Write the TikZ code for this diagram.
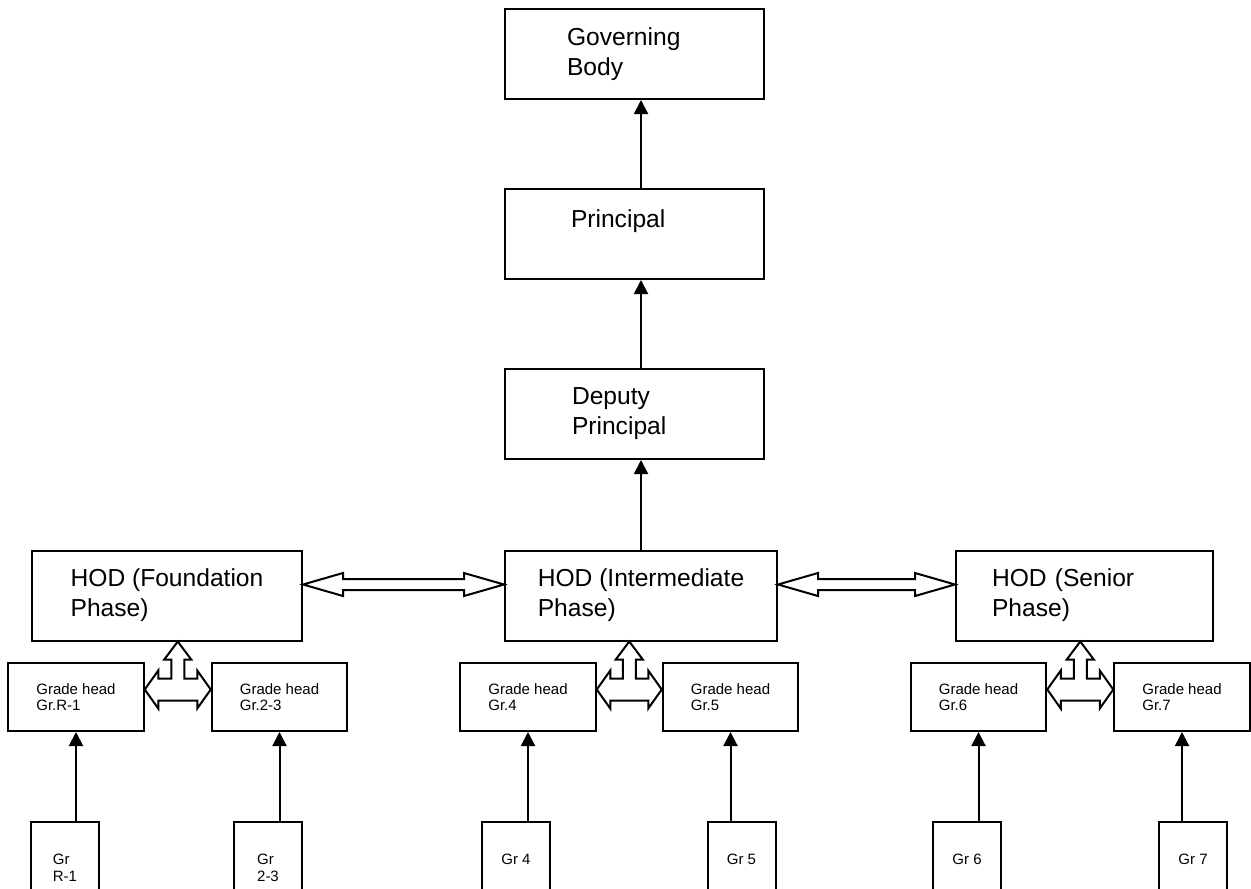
\documentclass[tikz,border=0pt]{standalone}
\usepackage{fontspec}
\setmainfont{Liberation Sans}
\usetikzlibrary{arrows.meta,positioning,calc}

\tikzset{
  bigbox/.style={draw,line width=1pt,minimum width=129.5pt,minimum height=45pt,inner sep=0pt,align=left,font=\fontsize{12.3pt}{15pt}\selectfont},
  gradebox/.style={draw,line width=1pt,minimum width=67.75pt,minimum height=34pt,inner sep=0pt,align=left,font=\fontsize{7.5pt}{8.35pt}\selectfont},
  classbox/.style={draw,line width=1pt,minimum width=34pt,anchor=north,inner sep=0pt,align=left,text depth=40pt,font=\fontsize{7.5pt}{8.35pt}\selectfont},
  uparrow/.style={-{Triangle[length=7pt,width=7pt]},line width=1pt},
  hollow/.style={draw,fill=white,line width=1pt},
}

\begin{document}
\begin{tikzpicture}[x=0.5pt,y=-0.5pt]
  \useasboundingbox (0,0) rectangle (1251,888);
  \clip (0,0) rectangle (1251,888);

  % top of the chart
  \node[bigbox,text width=67.5pt] (gov) at (634.5,54) {Governing\\Body};
  \node[bigbox,text width=63.5pt] (prin) at (634.5,234) {Principal\\\mbox{}};
  \node[bigbox,text width=62.5pt] (dep) at (634.5,414) {Deputy\\Principal};

  % heads of department
  \node[bigbox,minimum width=135pt] (hodF) at (167,595.5) {HOD (Foundation\\Phase)};
  \node[bigbox,minimum width=136pt] (hodI) at (641,595.5) {HOD (Intermediate\\Phase)};
  \node[bigbox,minimum width=128.5pt,text width=92.5pt] (hodS) at (1084.5,595.5) {HOD (Senior\\Phase)};

  \draw[uparrow] (hodI.north) -- (hodI.north |- dep.south);
  \draw[uparrow] (hodI.north |- dep.north) -- (hodI.north |- prin.south);
  \draw[uparrow] (hodI.north |- prin.north) -- (hodI.north |- gov.south);

  % grade heads and classes
  \foreach \n/\x/\g in {ghR1/76/R-1, gh23/279.5/2-3, gh4/528/4, gh5/730.5/5, gh6/978.5/6, gh7/1182/7}
    \node[gradebox] (\n) at (\x,697) {Grade head\\Gr.\g};
  \foreach \n/\x/\h/\t in {gR1/65/29.5/Gr\\R-1, g23/268/29.5/Gr\\2-3, g4/516/21/Gr 4, g5/741.5/21/Gr 5, g6/967/21/Gr 6, g7/1193/21/Gr 7}
    \node[classbox,text height=\h pt] (\n) at (\x,821) {\t};
  \foreach \a/\b in {gR1/ghR1, g23/gh23, g4/gh4, g5/gh5, g6/gh6, g7/gh7}
    \draw[uparrow] (\a.north -| \b.south) -- (\b.south);

  % open double arrows between the HODs
  \foreach \l/\r in {hodF/hodI, hodI/hodS}{
    \coordinate (L) at ([yshift=5.5pt]\l.east);
    \coordinate (R) at ([yshift=5.5pt]\r.west);
    \draw[hollow] (L) -- ($(L)+(40,-11.5)$) -- ($(L)+(40,-5.5)$) -- ($(R)+(-40,-5.5)$)
      -- ($(R)+(-40,-11.5)$) -- (R) -- ($(R)+(-40,11.5)$) -- ($(R)+(-40,5.5)$)
      -- ($(L)+(40,5.5)$) -- ($(L)+(40,11.5)$) -- cycle;
  }

  % open three-way arrows under each HOD
  \foreach \l/\r/\h in {ghR1/gh23/hodF, gh4/gh5/hodI, gh6/gh7/hodS}{
    \coordinate (L) at ([yshift=3.75pt]\l.east);
    \coordinate (R) at ([yshift=3.75pt]\r.west);
    \coordinate (M) at ($(L)!0.5!(R)$);
    \coordinate (T) at (M |- \h.south);
    \draw[hollow] (L) -- ($(L)+(13.5,-19)$) -- ($(L)+(13.5,-11)$) -- ($(M)+(-6.5,-11)$)
      -- ($(T)+(-6.5,18)$) -- ($(T)+(-13.5,18)$) -- (T) -- ($(T)+(13.5,18)$)
      -- ($(T)+(6.5,18)$) -- ($(M)+(6.5,-11)$) -- ($(R)+(-13.5,-11)$) -- ($(R)+(-13.5,-19)$)
      -- (R) -- ($(R)+(-13.5,19)$) -- ($(R)+(-13.5,11)$) -- ($(L)+(13.5,11)$)
      -- ($(L)+(13.5,19)$) -- cycle;
  }
\end{tikzpicture}
\end{document}
